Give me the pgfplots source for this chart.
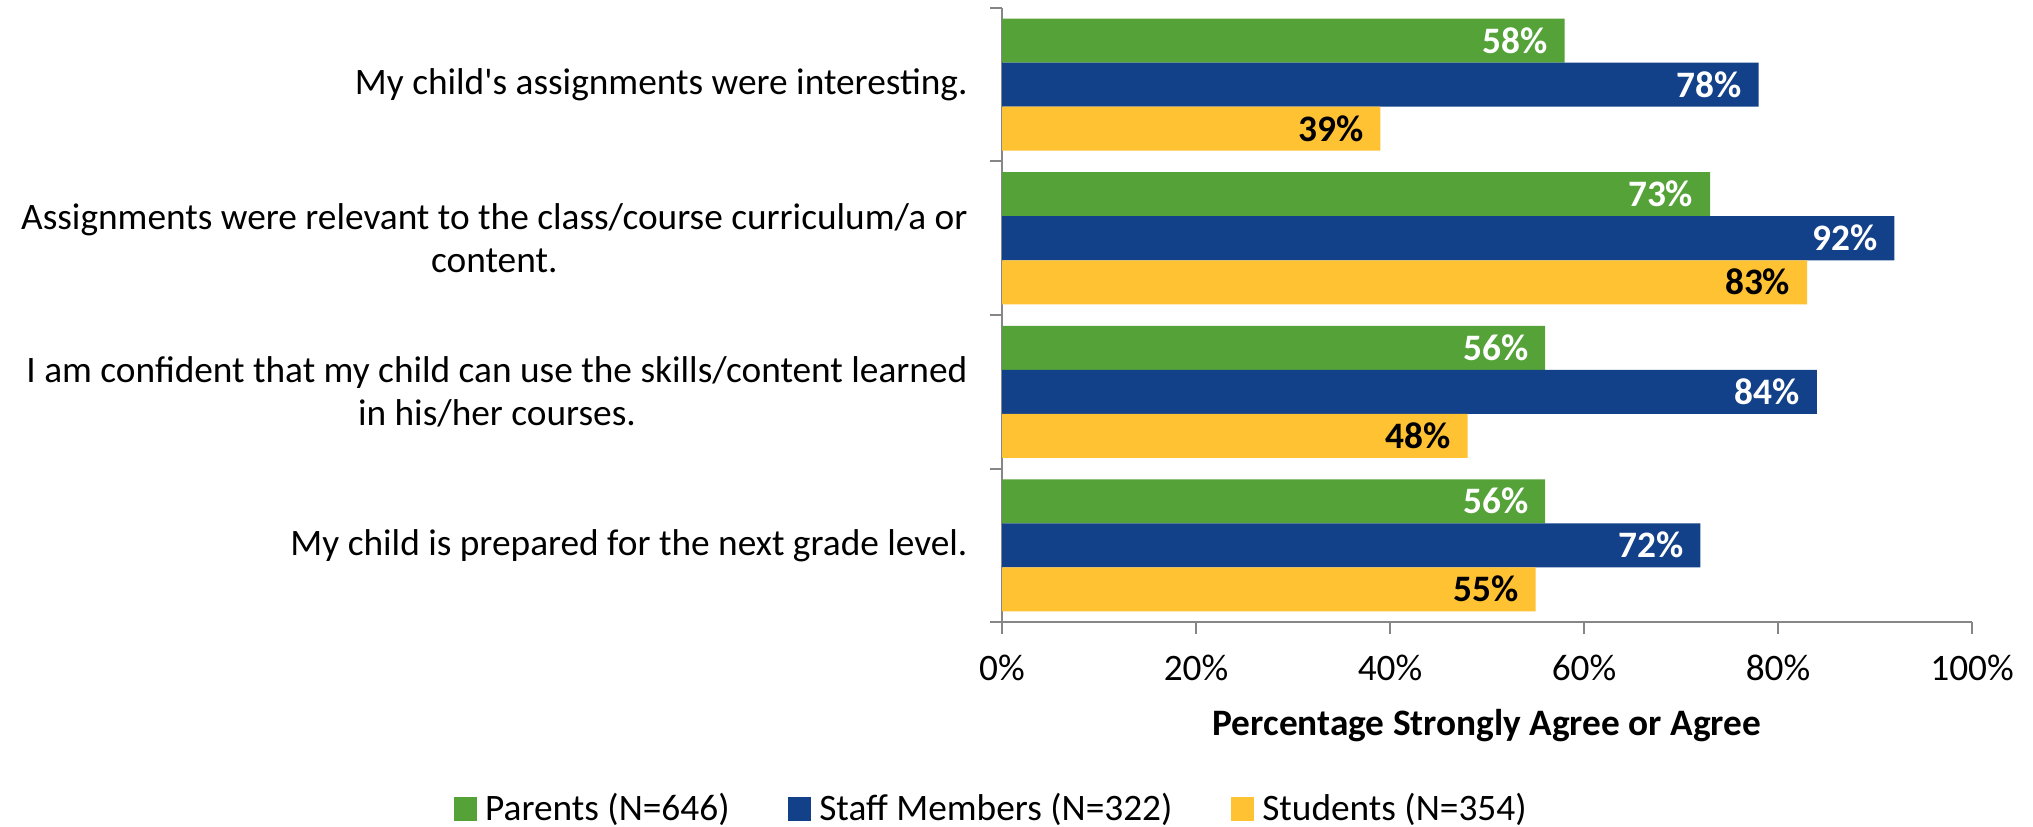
\documentclass[border=0pt]{standalone}
\usepackage{pgfplots}
\pgfplotsset{compat=1.18}
\usepackage{fontspec}
\setmainfont{Carlito}
\definecolor{cgreen}{HTML}{54A238}
\definecolor{cblue}{HTML}{124089}
\definecolor{cyellow}{HTML}{FFC232}
\definecolor{caxis}{HTML}{868686}
\begin{document}
\fontsize{14}{16.3}\selectfont
\begin{tikzpicture}
\useasboundingbox (-375.75pt,-76.5pt) rectangle (386.6pt,233.25pt);
\begin{axis}[
  at={(0,0)}, anchor=south west,
  scale only axis, width=363.75pt, height=230.25pt,
  xbar, bar width=16.5pt,
  xmin=0, xmax=100, ymin=-0.5, ymax=3.5,
  axis x line*=bottom, axis y line*=left,
  axis line style={caxis, line width=0.75pt},
  tick align=outside, xtick pos=bottom, ytick pos=left,
  xtick={0,20,40,60,80,100},
  xticklabels={0\%,20\%,40\%,60\%,80\%,100\%},
  major tick length=4.5pt, minor tick length=4.5pt,
  major x tick style={caxis, line width=0.75pt},
  major y tick style={draw=none},
  minor y tick style={caxis, line width=0.75pt},
  ytick={0,1,2,3},
  minor ytick={-0.5,0.5,1.5,2.5,3.5},
  yticklabels={
    {My child is prepared for the next grade level.},
    {I am confident that my child can use the skills/content learned\\in his/her courses.},
    {Assignments were relevant to the class/course curriculum/a or\\content.},
    {My child\textquotesingle s assignments were interesting.}},
  yticklabel style={align=center, xshift=-3.6pt},
  xticklabel style={yshift=-3pt},
  xlabel={\textbf{Percentage Strongly Agree or Agree}},
  xlabel style={at={(axis description cs:0.5,-0.1694)}, anchor=center},
  /pgf/number format/assume math mode=true,
  point meta=x,
  nodes near coords={\pgfmathprintnumber{\pgfplotspointmeta}\%},
  every node near coord/.append style={anchor=east, xshift=-1.5pt, font=\bfseries},
  legend columns=3,
  legend style={at={(axis description cs:-0.0093,-0.306)}, anchor=center, draw=none,
    /tikz/every even column/.append style={column sep=20pt},
    /tikz/every odd column/.append style={column sep=1pt}},
]
\addplot[fill=cgreen, draw=none, bar shift=16.5pt, every node near coord/.append style={text=white},
  legend image code/.code={\fill[cgreen] (0pt,-0.3em) rectangle (0.62em,0.34em);}]
  coordinates {(56,0) (56,1) (73,2) (58,3)};
\addplot[fill=cblue, draw=none, bar shift=0pt, every node near coord/.append style={text=white},
  legend image code/.code={\fill[cblue] (0pt,-0.3em) rectangle (0.62em,0.34em);}]
  coordinates {(72,0) (84,1) (92,2) (78,3)};
\addplot[fill=cyellow, draw=none, bar shift=-16.5pt, every node near coord/.append style={text=black},
  legend image code/.code={\fill[cyellow] (0pt,-0.3em) rectangle (0.62em,0.34em);}]
  coordinates {(55,0) (48,1) (83,2) (39,3)};
\legend{Parents (N=646), Staff Members (N=322), Students (N=354)}
\end{axis}
\end{tikzpicture}
\end{document}
